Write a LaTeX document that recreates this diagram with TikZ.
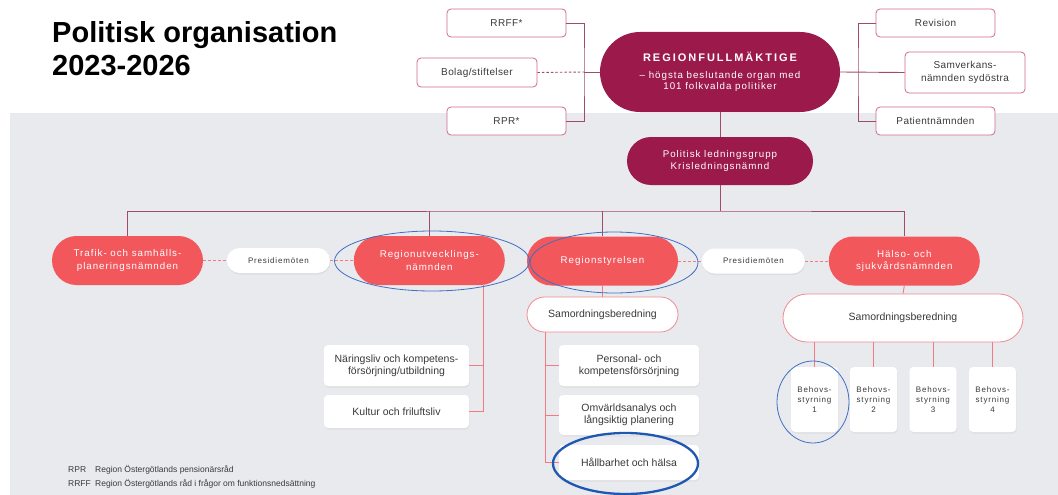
\documentclass[tikz,border=0pt]{standalone}
\usepackage{fontspec}
\setmainfont{Liberation Sans}
\newfontfamily\spacedfont[LetterSpace=10]{Liberation Sans}
\newfontfamily\boxfont[LetterSpace=4]{Liberation Sans}
\newfontfamily\capsfont[LetterSpace=18]{Liberation Sans}
\usepackage{tikz}
\usetikzlibrary{positioning}
\usetikzlibrary{shadows}
\usetikzlibrary{calc}

\definecolor{rfmred}{HTML}{9C1A4B}
\definecolor{coral}{HTML}{F2575C}
\definecolor{bggray}{HTML}{E9EAEE}
\definecolor{topline}{HTML}{A24A6E}
\definecolor{lowline}{HTML}{F27A82}
\definecolor{topborder}{HTML}{CC6A88}
\definecolor{lowborder}{HTML}{F08A90}
\definecolor{boxtext}{HTML}{3A3A3A}
\definecolor{markblue}{HTML}{3F6FC2}
\definecolor{markdark}{HTML}{1F58B2}

\tikzset{
  darkpill/.style={fill=rfmred, text=white, align=center, inner sep=0pt, font=\spacedfont\fontsize{9.75}{11.5}\selectfont},
  redpill/.style={fill=coral, text=white, align=center, inner sep=0pt, minimum width=151pt, minimum height=49pt, rounded corners=24.5pt, font=\spacedfont\fontsize{9.75}{12.5}\selectfont},
  topbox/.style={draw=topborder, line width=0.8pt, fill=white, rounded corners=4pt, minimum width=119pt, minimum height=28pt, inner sep=0pt, align=center, text=boxtext, font=\boxfont\fontsize{10}{12.5}\selectfont},
  meetbox/.style={fill=white, rounded corners=12.5pt, minimum width=103pt, minimum height=25pt, inner sep=0pt, text=boxtext, font=\spacedfont\fontsize{8}{10}\selectfont, drop shadow={opacity=0.12, shadow xshift=0.5pt, shadow yshift=-1.5pt}},
  groupbox/.style={draw=lowborder, line width=0.8pt, fill=white, inner sep=0pt, text=boxtext, font=\fontsize{10.5}{13}\selectfont},
  subbox/.style={fill=white, rounded corners=4pt, inner sep=0pt, align=center, text=boxtext, font=\fontsize{10.5}{12}\selectfont, drop shadow={opacity=0.10, shadow xshift=0.5pt, shadow yshift=-1.5pt}},
  needbox/.style={subbox, minimum width=47pt, minimum height=65pt, font=\spacedfont\fontsize{8}{10}\selectfont},
  topconn/.style={draw=topline, line width=0.9pt},
  lowconn/.style={draw=lowline, line width=0.9pt},
  meetconn/.style={draw=lowline, line width=0.9pt, dash pattern=on 3pt off 2pt},
  ringmark/.style={draw=markblue, line width=0.8pt},
}

\begin{document}
\begin{tikzpicture}[x=1pt, y=-1pt, node distance=23.5pt]
\useasboundingbox (0,0) rectangle (1058,495);
\fill[bggray] (10,113) rectangle (1058,495);
%%%%%%%%%%%%%%
\node[anchor=north west, inner sep=0pt, align=left, font=\bfseries\fontsize{29}{33}\selectfont] (title) at (52,21) {Politisk organisation\\2023-2026};
%%%%%%%%%%%%%%
\node[darkpill, minimum width=240pt, minimum height=80pt, rounded corners=40pt] (rfm) at (720,72) {{\capsfont\bfseries\fontsize{11}{13}\selectfont REGIONFULLMÄKTIGE}\\[5pt]– högsta beslutande organ med\\101 folkvalda politiker};
\node[darkpill, minimum width=186pt, minimum height=48pt, rounded corners=24pt] (plg) at (720,161) {Politisk ledningsgrupp\\Krisledningsnämnd};
%%%%%%%%%%%%%%
\node[topbox] (rrff) at (506.5,23) {RRFF*};
\node[topbox, minimum width=120pt, minimum height=29pt] (bolag) at (477,72.5) {Bolag/stiftelser};
\node[topbox] (rpr) at (506.5,121) {RPR*};
\node[topbox] (revision) at (935.5,23) {Revision};
\node[topbox, minimum width=120pt, minimum height=41pt] (samverkan) at (965,72.5) {Samverkans-\\nämnden sydöstra};
\node[topbox] (patient) at (935.5,121) {Patientnämnden};
%%%%%%%%%%%%%%
\node[redpill] (trafik) at (127.5,260.5) {Trafik- och samhälls-\\planeringsnämnden};
\node[meetbox, right=of trafik] (pres1) {Presidiemöten};
\node[redpill, right=of pres1] (rutv) {Regionutvecklings-\\nämnden};
\node[redpill] (rstyr) at (602.5,261) {Regionstyrelsen};
\node[meetbox, right=of rstyr] (pres2) {Presidiemöten};
\node[redpill, right=of pres2] (halso) {Hälso- och\\sjukvårdsnämnden};
%%%%%%%%%%%%%%
\node[subbox, minimum width=145pt, minimum height=41pt] (naring) at (396.5,365.5) {Näringsliv och kompetens-\\försörjning/utbildning};
\node[subbox, minimum width=145pt, minimum height=33pt] (kultur) at (396.5,411.5) {Kultur och friluftsliv};
\node[groupbox, minimum width=151pt, minimum height=35pt, rounded corners=17.5pt] (samL) at (602.5,314.5) {Samordningsberedning};
\node[subbox, minimum width=140pt, minimum height=41pt] (personal) at (629,365.5) {Personal- och\\kompetensförsörjning};
\node[subbox, minimum width=140pt, minimum height=40pt] (omv) at (629,415) {Omvärldsanalys och\\långsiktig planering};
\node[subbox, minimum width=140pt, minimum height=35pt] (hallb) at (629,462.5) {Hållbarhet och hälsa};
\node[groupbox, minimum width=240pt, minimum height=48pt, rounded corners=24pt] (samR) at (903,318) {Samordningsberedning};
\foreach \i/\x in {1/814.5, 2/873.5, 3/933, 4/992.5}
  \node[needbox] (beh\i) at (\x,399.5) {Behovs-\\styrning\\\i};
%%%%%%%%%%%%%%
\node[anchor=base west, inner sep=0pt, text=boxtext, font=\fontsize{8.5}{10}\selectfont] (fnrpr) at (68,472) {RPR};
\node[anchor=base west, inner sep=0pt, text=boxtext, font=\fontsize{8.5}{10}\selectfont] (fnrprtext) at (95,472) {Region Östergötlands pensionärsråd};
\node[anchor=base west, inner sep=0pt, text=boxtext, font=\fontsize{8.5}{10}\selectfont] (fnrrff) at (68,486) {RRFF};
\node[anchor=base west, inner sep=0pt, text=boxtext, font=\fontsize{8.5}{10}\selectfont] (fnrrfftext) at (95,486) {Region Östergötlands råd i frågor om funktionsnedsättning};
%%%%%%%%%%%%%%
\coordinate (lbar) at (584,72);
\coordinate (rbar) at (858,72);
\draw[topconn] (rrff.east) -| (lbar) |- (rpr.east);
\draw[topconn, dash pattern=on 2.5pt off 2pt] (bolag.east) -- (lbar);
\draw[topconn] (lbar) -- (rfm.west);
\draw[topconn] (revision.west) -| (rbar) |- (patient.west);
\draw[topconn] (rfm.east) -- (samverkan.west);
\draw[topconn] (rfm.south) -- (plg.north);
\coordinate (bus) at (720,211);
\draw[topconn] (plg.south) -- (bus);
\draw[topconn] (trafik.north) |- (bus) -| (halso.north);
\draw[topconn] (rutv.north) -- (rutv.north |- bus);
\draw[topconn] (rstyr.north) -- (rstyr.north |- bus);
%%%%%%%%%%%%%%
\draw[meetconn] (trafik.east) -- (pres1.west);
\draw[meetconn] (pres1.east) -- (rutv.west);
\draw[meetconn] (rstyr.east) -- (pres2.west);
\draw[meetconn] (pres2.east) -- (halso.west);
%%%%%%%%%%%%%%
\coordinate (rutvdrop) at (483,285);
\draw[lowconn] (rutvdrop) |- (kultur.east);
\draw[lowconn] (naring.east) -- (naring.east -| rutvdrop);
\draw[lowconn] (rstyr.south) -- (samL.north);
\coordinate (samLdrop) at (545,332);
\draw[lowconn] (samLdrop) |- (hallb.west);
\draw[lowconn] (personal.west) -- (personal.west -| samLdrop);
\draw[lowconn] (omv.west) -- (omv.west -| samLdrop);
\draw[lowconn] (halso.south) -- (samR.north);
\foreach \i in {1,...,4}
  \draw[lowconn] (beh\i.north) -- (beh\i.north |- samR.south);
%%%%%%%%%%%%%%
\draw[ringmark] (432,261) ellipse [x radius=97.5pt, y radius=30pt];
\draw[ringmark] (614,262.5) ellipse [x radius=84pt, y radius=30.5pt];
\draw[ringmark] (813,402) ellipse [x radius=36pt, y radius=41pt];
\draw[draw=markdark, line width=2.3pt] (625.5,463.5) ellipse [x radius=72.5pt, y radius=30.5pt];
\end{tikzpicture}
\end{document}
